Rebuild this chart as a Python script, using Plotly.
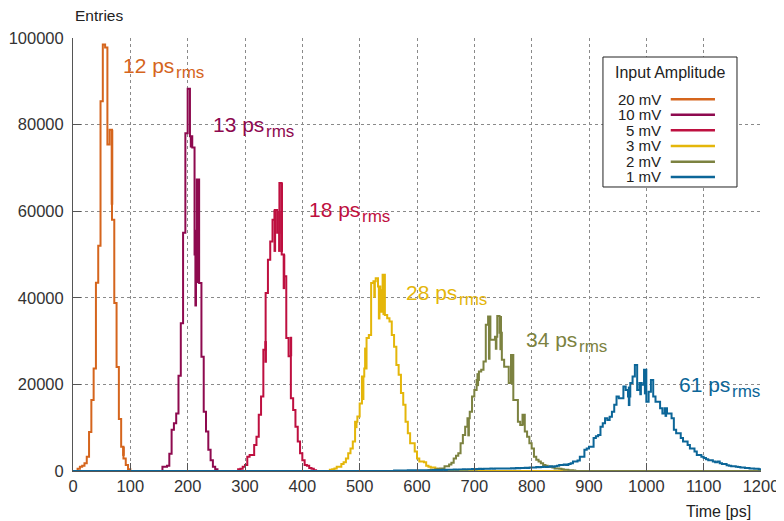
import numpy as np
import plotly.graph_objects as go

BIN_PS = 4
X_MAX = 1200

amplitudes = ["20 mV", "10 mV", "5 mV", "3 mV", "2 mV", "1 mV"]
colors = ["#D5651D", "#8E0A4F", "#BE1040", "#E4B60A", "#7C8240", "#0C6698"]
rms_ps = ["12", "13", "18", "28", "34", "61"]

# first bin edge (ps) of each listed histogram; counts in thousands of entries per 4 ps bin
start_20mV = 10
counts_20mV = [0.5, 1.0, 1.2, 1.8, 3.3, 9.0, 16.4, 23.7, 43.5, 52, 85.4, 98.5, 97.8, 75.4,
               78.8, 58, 38.8, 24, 12, 5.6, 2.9, 1.4, 0.4]
start_10mV = 156
counts_10mV = [1.0, 1.0, 1.2, 4.0, 9.5, 11, 13.3, 22, 34.1, 55, 78, 88.3, 77.3, 74.7, 50,
               67.3, 43.4, 26.4, 13.7, 9.1, 4.9, 2.5, 1.0, 0.4]
start_5mV = 290
counts_5mV = [0.4, 0.5, 1.0, 1.4, 3.3, 3.7, 3.7, 6.0, 7.9, 13, 17.2, 28, 41.1, 48.8, 53, 58,
              60.3, 55, 66.5, 50, 45, 30.7, 26.5, 16.8, 14.1, 10.2, 6.8, 4.1, 2.5, 1.4, 1.2,
              0.7, 0.5, 0.2]
start_3mV = 448
counts_3mV = [0.3, 0.4, 0.6, 1.0, 1.0, 1.6, 2.0, 2.9, 4.1, 5.2, 6.8, 11.4, 12.6, 15.6, 21.8,
              23.7, 30.7, 31.4, 43.4, 43.8, 44.5, 42.6, 36.8, 45.3, 36, 35.3, 34.5, 31.4,
              28.7, 24.5, 22.2, 18, 15.3, 11.4, 8.7, 6.4, 6.4, 4.5, 2.9, 2.2, 2.2, 2.0, 1.2,
              1.0, 0.8, 0.8, 0.5, 0.3]
start_2mV = 620
counts_2mV = [0.2, 0.3, 0.3, 0.4, 0.5, 0.6, 0.6, 1.1, 1.1, 1.5, 1.9, 2.9, 3.5, 4.1, 6.4, 8.3,
              10.2, 12.2, 13.7, 17.2, 18.7, 21, 23, 23.4, 25.3, 33.8, 35.7, 30.3, 30.3, 31,
              35.8, 31.9, 25.7, 24.1, 24.1, 20.3, 26.8, 16.4, 16.4, 11.4, 10.6, 13, 9.1, 7.9,
              6.4, 5.2, 3.3, 2.6, 2.2, 1.8, 1.4, 1.2, 1.0, 1.0, 0.8, 0.6, 0.6, 0.5, 0.4, 0.3,
              0.3, 0.2, 0.2, 0.1]
start_1mV = 560
counts_1mV = [0.1, 0.1, 0.1, 0.1, 0.1, 0.1, 0.15, 0.15, 0.15, 0.15,
              0.15, 0.2, 0.15, 0.2, 0.2, 0.2, 0.2, 0.25, 0.2, 0.25,
              0.25, 0.3, 0.25, 0.3, 0.3, 0.3, 0.35, 0.3, 0.35, 0.35,
              0.4, 0.35, 0.4, 0.4, 0.45, 0.4, 0.45, 0.5, 0.45, 0.5,
              0.5, 0.5, 0.55, 0.5, 0.55, 0.6, 0.55, 0.6, 0.6, 0.6,
              0.6, 0.65, 0.6, 0.7, 0.65, 0.7, 0.7, 0.75, 0.7, 0.8,
              0.8, 0.8, 0.9, 0.85, 0.9, 1.0, 0.9, 1.0, 1.1, 1.0,
              1.1, 1.2, 1.4, 1.4, 1.5, 1.4, 1.6, 1.8, 2.2, 2.2,
              2.4, 3.3, 3.3, 4.9, 5.2, 5.6, 5.6, 7.6, 8.0, 8.3,
              10.2, 11, 12.2, 11.8, 12.5, 13.7, 15.3, 17.2, 16.8, 16.8,
              19.5, 18.7, 17.2, 20.3, 21.8, 24.5, 18.7, 20.3, 19.9, 23.4,
              16, 18.3, 21, 17.2, 16, 16, 14.5, 13.3, 14.5, 13.3,
              13.3, 12.2, 9.5, 8.7, 8.7, 7.6, 6.8, 6.8, 6.0, 5.2,
              5.2, 4.5, 3.7, 3.7, 3.3, 3.0, 2.7, 2.5, 2.5, 2.2,
              2.0, 2.2, 1.8, 1.6, 1.6, 1.3, 1.2, 1.1, 1.1, 1.0,
              0.9, 0.8, 0.8, 0.7, 0.7, 0.6, 0.6, 0.5, 0.5, 0.4]

# bins where the counts flicker between two levels (bin start ps, low k, high k)
flicker_20mV = [(66, 61.5, 78.8), (86, 3.5, 5.6)]
flicker_10mV = [(204, 74.7, 77.3), (212, 38, 55.7), (216, 43.4, 67.3)]
flicker_5mV = [(334, 25, 30), (350, 50.6, 60.3), (358, 50.6, 60), (362, 50.6, 66.5),
               (366, 42, 50), (378, 26.5, 31)]
flicker_3mV = [(492, 9.9, 11.4), (504, 16.4, 21.8), (508, 23.7, 28.5), (524, 40, 43.8),
               (532, 35, 42.6), (536, 36.8, 42), (540, 36, 45.3)]
flicker_2mV = [(688, 8, 12.2), (704, 19.6, 22.6), (724, 25.7, 35.7), (736, 28, 31),
               (744, 27.9, 35.8), (764, 20, 26.8), (784, 10.6, 13)]
flicker_1mV = [(968, 15, 19.5), (988, 17.5, 20.3), (996, 17.7, 23.4), (1032, 12.5, 14.5)]

starts = [start_20mV, start_10mV, start_5mV, start_3mV, start_2mV, start_1mV]
counts = [counts_20mV, counts_10mV, counts_5mV, counts_3mV, counts_2mV, counts_1mV]
flickers = [flicker_20mV, flicker_10mV, flicker_5mV, flicker_3mV, flicker_2mV, flicker_1mV]

# rms label anchors (data units: ps, entries)
label_x = [83, 240, 409, 577, 787, 1053]
label_y = [93640, 80120, 60460, 41270, 30290, 19880]

edges = np.arange(0, X_MAX + BIN_PS, BIN_PS)
nbins = len(edges) - 1

fig = go.Figure()
for name, col, s, c, fl in zip(amplitudes, colors, starts, counts, flickers):
    full = np.zeros(nbins)
    i0 = int(round(s / BIN_PS))
    full[i0:i0 + len(c)] = np.array(c) * 1000
    yv = np.append(full, full[-1])
    fig.add_trace(go.Scatter(x=edges, y=yv, mode="lines", name=name,
                             line=dict(color=col, width=2, shape="hv"),
                             cliponaxis=False,
                             hoverinfo="skip", showlegend=False))
    fx, fy = [], []
    for b, lo, hi in fl:
        fx += [b + BIN_PS / 2, b + BIN_PS / 2, None]
        fy += [lo * 1000, hi * 1000, None]
    fig.add_trace(go.Scatter(x=fx, y=fy, mode="lines", name=name + " flicker",
                             line=dict(color=col, width=2.6),
                             hoverinfo="skip", showlegend=False))

FONT = "Liberation Sans, Arial, Helvetica, sans-serif"
annotations = []
for txt, col, lx, ly in zip(rms_ps, colors, label_x, label_y):
    annotations.append(dict(x=lx, y=ly, xref="x", yref="y", text=txt + " ps",
                            showarrow=False, xanchor="left", yanchor="middle",
                            font=dict(family=FONT, size=21, color=col)))
    annotations.append(dict(x=lx, y=ly, xref="x", yref="y", text="rms",
                            showarrow=False, xanchor="left", yanchor="middle",
                            xshift=53, yshift=-7,
                            font=dict(family=FONT, size=17, color=col)))

annotations.append(dict(x=0, y=1.052, xref="paper", yref="paper", text="Entries",
                        showarrow=False, xanchor="left", yanchor="middle",
                        font=dict(family=FONT, size=15.5, color="#222")))
annotations.append(dict(x=0.988, y=-0.094, xref="paper", yref="paper", text="Time [ps]",
                        showarrow=False, xanchor="right", yanchor="middle",
                        font=dict(family=FONT, size=16, color="#222")))

# manual legend (gnuplot style: label then sample)
shapes = [dict(type="rect", xref="paper", yref="paper", x0=0.7703, x1=0.9651,
               y0=0.6559, y1=0.9561, line=dict(color="#222", width=1),
               fillcolor="white", layer="above")]
annotations.append(dict(x=0.8677, y=0.9199, xref="paper", yref="paper",
                        text="Input Amplitude", showarrow=False, xanchor="center",
                        yanchor="middle", font=dict(family=FONT, size=16, color="#222")))
leg_y = [0.8584, 0.8229, 0.7868, 0.7506, 0.7143, 0.6790]
for name, col, yy in zip(amplitudes, colors, leg_y):
    annotations.append(dict(x=0.8557, y=yy, xref="paper", yref="paper", text=name,
                            showarrow=False, xanchor="right", yanchor="middle",
                            borderpad=0,
                            font=dict(family=FONT, size=15, color="#222")))
    shapes.append(dict(type="line", xref="paper", yref="paper", x0=0.8688, x1=0.9331,
                       y0=yy, y1=yy, line=dict(color=col, width=2.5), layer="above"))

axis_common = dict(showgrid=True, gridcolor="#8a8a8a", griddash="dot", gridwidth=1,
                   showline=True, linecolor="#555", linewidth=1, ticks="inside",
                   ticklen=8, tickcolor="#555", zeroline=False, automargin=False,
                   tickfont=dict(family=FONT, size=16.5, color="#333"))

# the page body adds an 8 px margin; size the figure so it fills the 784x521 window
fig.update_layout(
    width=776, height=513, autosize=False,
    margin=dict(l=65, r=23, t=30, b=50, autoexpand=False),
    paper_bgcolor="white", plot_bgcolor="white",
    xaxis=dict(range=[0, X_MAX], dtick=100, tick0=0, **axis_common),
    yaxis=dict(range=[0, 100000], dtick=20000, tick0=0, tickformat="d",
               ticklabelstandoff=5, **axis_common),
    annotations=annotations, shapes=shapes,
)

fig.write_html("out.html")
